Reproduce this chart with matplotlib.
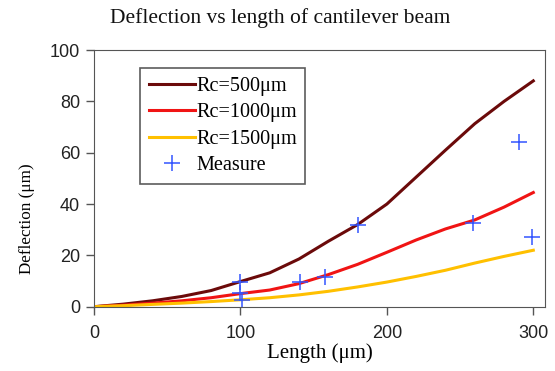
import matplotlib
matplotlib.use('Agg')
import matplotlib.pyplot as plt

# beam length (um) and deflection (um) for three radii of curvature
length = [0, 20, 40, 60, 80, 100, 120, 140, 160, 180, 200, 220, 240, 260, 280, 300]
rc500 = [0, 1.0, 2.3, 4.0, 6.3, 9.8, 13.2, 18.6, 25.5, 32, 40, 50.5, 61, 71.3, 80, 88]
rc1000 = [0, 0.6, 1.4, 2.3, 3.5, 5.1, 6.5, 9, 12.5, 16.5, 21.2, 26, 30.3, 33.8, 38.8, 44.5]
rc1500 = [0, 0.4, 0.9, 1.4, 2.0, 2.7, 3.5, 4.6, 6.0, 7.7, 9.6, 11.8, 14.2, 17, 19.6, 22]

# measured points
meas_x = [100, 100, 101, 141, 158, 180, 259, 290, 299]
meas_y = [9.7, 5.2, 2.6, 9.7, 11.7, 31.9, 32.5, 64.3, 27.3]

plt.rcParams['font.family'] = ['Liberation Serif', 'DejaVu Serif']

fig = plt.figure(figsize=(5.55, 3.71), dpi=100)
ax = fig.add_axes([0.1694, 0.1733, 0.8126, 0.6917])

ax.plot(length, rc500, color='#6b0a0a', lw=2.2, label='Rc=500μm')
ax.plot(length, rc1000, color='#f01414', lw=2.2, label='Rc=1000μm')
ax.plot(length, rc1500, color='#ffc000', lw=2.2, label='Rc=1500μm')
ax.plot(meas_x, meas_y, '+', color='#3355ff', ms=11.5, mew=1.1, label='Measure')

ax.set_xlim(0, 308)
ax.set_ylim(0, 100)
ax.set_xticks([0, 100, 200, 300])
ax.set_yticks([0, 20, 40, 60, 80, 100])
ax.tick_params(direction='out', length=6, width=1, color='#555555')
ax.tick_params(axis='x', pad=7)
ax.tick_params(axis='y', pad=4)
for lab in ax.get_xticklabels() + ax.get_yticklabels():
    lab.set_family(['Liberation Sans', 'DejaVu Sans'])
    lab.set_fontsize(13)
    lab.set_color('#222222')
for s in ax.spines.values():
    s.set_color('#555555')

ax.set_xlabel('Length (μm)', fontsize=15, labelpad=1)
ax.set_ylabel('Deflection (μm)', fontsize=12.3)
ax.yaxis.set_label_coords(-0.131, 0.343)
fig.text(280 / 555, 1 - 18 / 371, 'Deflection vs length of cantilever beam',
         ha='center', va='center', fontsize=15.5, color='#111111')

leg = ax.legend(loc='upper left', bbox_to_anchor=(0.102, 0.93), fontsize=14.6, handlelength=2.3,
                fancybox=False, edgecolor='#333333', borderpad=0.42, labelspacing=0.36,
                handletextpad=0.05, borderaxespad=0)
leg.get_frame().set_linewidth(1.2)

fig.savefig('out.png', dpi=100)
